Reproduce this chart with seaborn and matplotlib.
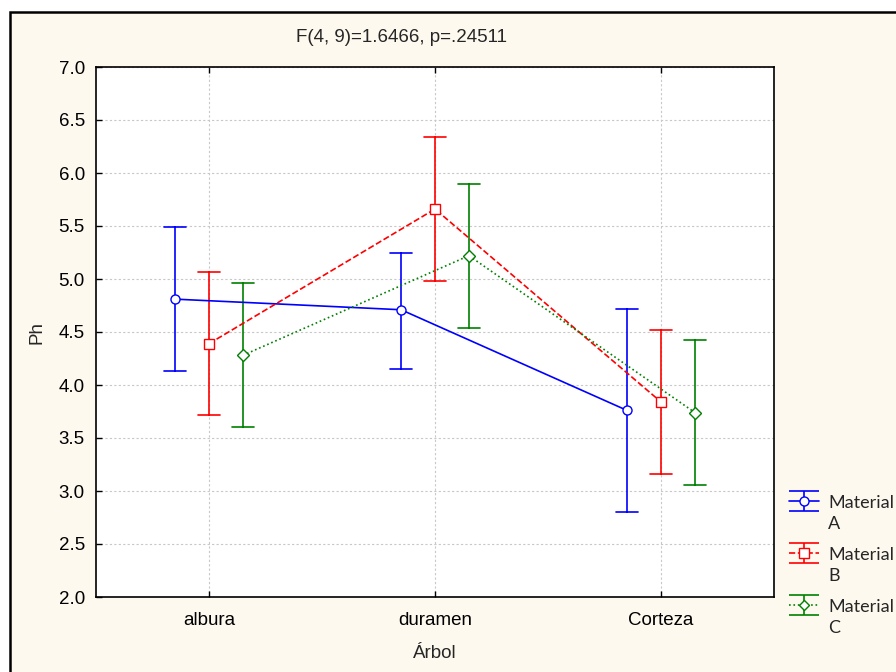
import numpy as np
import pandas as pd
import matplotlib
matplotlib.use("Agg")
import matplotlib.pyplot as plt
from matplotlib.patches import Rectangle
from matplotlib.legend_handler import HandlerErrorbar
import seaborn as sns

# Means and interval limits of pH by tree part and material
parts = ["albura", "duramen", "Corteza"]
materials = ["Material\nA", "Material\nB", "Material\nC"]
mean_a = [4.81, 4.71, 3.76]
low_a = [4.13, 4.15, 2.80]
high_a = [5.49, 5.25, 4.72]
mean_b = [4.39, 5.66, 3.84]
low_b = [3.72, 4.98, 3.16]
high_b = [5.07, 6.34, 4.52]
mean_c = [4.28, 5.22, 3.74]
low_c = [3.60, 4.54, 3.06]
high_c = [4.96, 5.90, 4.42]
yticks = [2.0, 2.5, 3.0, 3.5, 4.0, 4.5, 5.0, 5.5, 6.0, 6.5, 7.0]
title = "F(4, 9)=1.6466, p=.24511"

colors = ["#0000FF", "#FF0000", "#008000"]
markers = ["o", "s", "D"]
linestyles = ["-", "--", ":"]

# Each point is stored as (low, mean, high): median gives the mean, the range gives the interval
rows = []
for mat, means, lows, highs in zip(materials,
                                   [mean_a, mean_b, mean_c],
                                   [low_a, low_b, low_c],
                                   [high_a, high_b, high_c]):
    for part, m, lo, hi in zip(parts, means, lows, highs):
        for v in (lo, m, hi):
            rows.append({"Árbol": part, "Material": mat, "Ph": v})
df = pd.DataFrame(rows)

sns.set_style("white")
plt.rcParams["font.family"] = ["Liberation Sans", "DejaVu Sans"]
FS = 13.5

fig = plt.figure(figsize=(8.96, 6.72), dpi=100)
fig.patch.set_facecolor("white")
fig.patches.append(Rectangle((10 / 896, -0.05), 1.0, 1 - 12 / 672 + 0.05,
                             transform=fig.transFigure, facecolor="#FEF9EF",
                             edgecolor="black", linewidth=1.8, zorder=-10))

ax = fig.add_axes([96 / 896, 75 / 672, 678 / 896, 530 / 672])
ax.set_facecolor("white")

sns.pointplot(data=df, x="Árbol", y="Ph", hue="Material", order=parts,
              hue_order=materials, palette=colors, markers=markers,
              linestyles=linestyles, estimator=np.median,
              errorbar=lambda v: (v.min(), v.max()), dodge=0.3,
              capsize=0.1, legend=False, ax=ax,
              err_kws={"linewidth": 1.2},
              linewidth=1.2, markersize=6.5, markerfacecolor="white",
              markeredgewidth=1.0)

# Keep markers above the interval bars
for line in ax.lines:
    if line.get_marker() not in (None, "None", ""):
        line.set_zorder(5)

ax.set_xlim(-0.5, 2.5)
ax.set_ylim(2.0, 7.0)
ax.set_yticks(yticks)
ax.set_yticklabels([f"{t:.1f}" for t in yticks])
ax.grid(True, color="#C8C8C8", linestyle=(0, (2, 2)), linewidth=0.8)
ax.set_axisbelow(True)
for s in ax.spines.values():
    s.set_color("black")
    s.set_linewidth(1.2)
ax.tick_params(axis="both", direction="in", length=4, width=1, labelsize=FS,
               colors="black", bottom=True, left=True, top=True)
ax.tick_params(axis="x", pad=11)
ax.tick_params(axis="y", pad=8)

ax.set_xlabel("Árbol", fontsize=FS)
ax.set_ylabel("Ph", fontsize=FS)
ax.xaxis.set_label_coords(0.5, -0.09)
ax.yaxis.set_label_coords(-0.074, 0.5)

fig.text(401 / 896, 1 - 38 / 672, title, ha="center", va="center", fontsize=FS)


class RaisedErrorbar(HandlerErrorbar):
    """Errorbar legend glyph lifted to sit beside the first text line."""

    def __init__(self, lift=7.5, **kw):
        super().__init__(**kw)
        self.lift = lift

    def create_artists(self, legend, orig_handle, xdescent, ydescent, width,
                       height, fontsize, trans):
        return super().create_artists(legend, orig_handle, xdescent,
                                      ydescent - 2 * self.lift, width, height,
                                      fontsize, trans)


# Legend glyphs drawn on a hidden axes so they do not affect the plot
hidden = fig.add_axes([0, 0, 0.01, 0.01])
hidden.set_visible(False)
handles = []
for c, m, ls, lab in zip(colors, markers, linestyles, materials):
    h = hidden.errorbar([0], [0], yerr=[1], color=c, marker=m, linestyle=ls,
                        markerfacecolor="white", markersize=6.5 if m != "D" else 5.5,
                        capsize=10.8, capthick=1.2, linewidth=1.2,
                        elinewidth=1.2, label=lab)
    handles.append(h)
leg = fig.legend(handles=handles, labels=materials, loc="upper left",
                 bbox_to_anchor=(789 / 896, 1 - 495 / 672), frameon=False,
                 prop={"family": "Lato", "size": 13}, handlelength=1.66,
                 handletextpad=0.5, labelspacing=0.86, borderaxespad=0,
                 borderpad=0,
                 handler_map={h: RaisedErrorbar(lift=9.0, yerr_size=0.55)
                              for h in handles})
for t in leg.get_texts():
    t.set_linespacing(1.35)

fig.savefig("out.png", dpi=100, facecolor=fig.get_facecolor())
